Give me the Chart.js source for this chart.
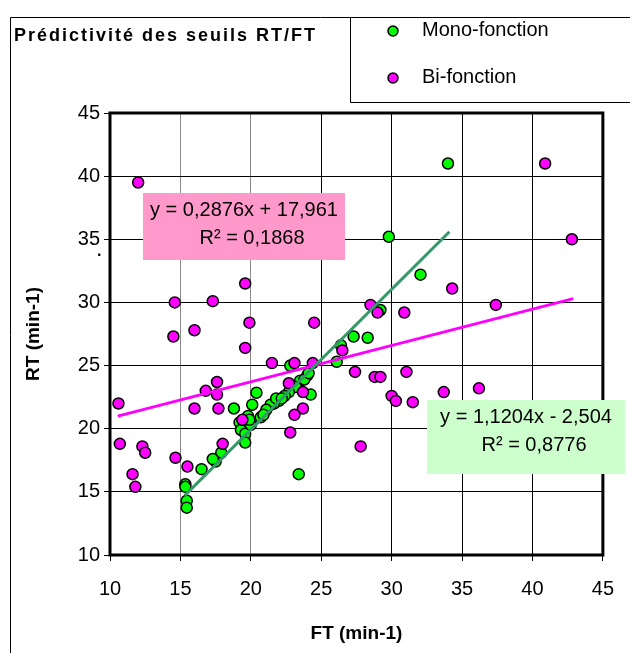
<!DOCTYPE html>
<html>
<head>
<meta charset="utf-8">
<script src="https://cdn.jsdelivr.net/npm/chart.js@4/dist/chart.umd.min.js"></script>
<style>
  html, body { margin: 0; padding: 0; background: #fff; }
  #wrap { width: 630px; height: 653px; position: relative; }
</style>
</head>
<body>
<div id="wrap"><canvas id="seuilsChart" width="630" height="653"></canvas></div>
<script>
// === data ===
const monoX = [34.0, 29.8, 32.05, 29.2, 27.3, 28.3, 26.4, 26.1, 24.25, 23.4, 22.8, 24.0, 23.5, 23.2, 22.7,
    22.4, 22.0, 21.65, 21.4, 21.1, 20.7, 20.4, 20.1, 18.8, 19.8, 19.2, 19.5, 19.3, 19.6, 19.6,
    17.9, 17.5, 17.3, 16.5, 15.35, 15.35, 15.45, 15.45, 23.8, 24.1, 20.9, 21.8, 22.2, 20.0, 19.9];
const monoY = [41.0, 35.2, 32.2, 29.4, 27.3, 27.2, 26.6, 25.3, 22.7, 16.4, 25.0, 24.2, 23.8, 23.3, 22.9,
    22.6, 22.2, 22.0, 21.9, 21.5, 20.9, 22.85, 21.9, 21.6, 21.0, 20.5, 20.2, 19.9, 19.6, 18.9,
    18.1, 17.4, 17.6, 16.8, 15.6, 15.4, 14.3, 13.75, 23.9, 24.4, 21.1, 22.4, 22.4, 20.3, 20.7];

const biX = [12.0, 10.6, 10.7, 12.3, 12.5, 11.6, 11.8, 14.65, 15.5, 16.0, 16.8, 17.6, 17.6, 17.7, 18.0,
    19.4, 19.6, 21.5, 14.6, 14.5, 16.0, 17.3, 19.6, 19.9, 28.5, 29.0, 30.9, 24.5, 23.1, 24.4,
    26.5, 22.7, 23.7, 23.7, 23.1, 22.8, 27.4, 28.8, 29.2, 31.05, 30.0, 30.3, 31.5, 27.8, 34.3,
    40.9, 42.8, 37.4, 33.7, 36.2];
const biY = [39.5, 22.0, 18.8, 18.6, 18.1, 16.4, 15.4, 17.7, 17.0, 21.6, 23.0, 23.7, 22.7, 21.6, 18.8,
    20.7, 26.4, 25.2, 30.0, 27.3, 27.8, 30.1, 31.5, 28.4, 29.8, 29.2, 29.2, 28.4, 25.2, 25.2,
    26.2, 23.6, 22.9, 21.6, 21.1, 19.7, 24.5, 24.1, 24.1, 24.5, 22.6, 22.2, 22.1, 18.6, 31.1,
    41.0, 35.0, 29.8, 22.9, 23.2];

// trend line end points
const monoTrendX = [15.3, 34.1];
const monoTrendY = [14.7, 35.6];
const biTrendX = [10.55, 42.9];
const biTrendY = [21.0, 30.3];

const seriesNames = ["Mono-fonction", "Bi-fonction"];
const monoEquation = ["y = 1,1204x - 2,504", "R² = 0,8776"];
const biEquation = ["y = 0,2876x + 17,961", "R² = 0,1868"];

const toPoints = (xs, ys) => xs.map((x, i) => ({ x: x, y: ys[i] }));

const FONT = "'Liberation Sans', Arial, sans-serif";
const GREEN = "#00ff00";
const MAGENTA = "#ff00ff";

// frame, legend, equation boxes
const decorPlugin = {
    id: "decor",
    beforeDatasetsDraw(chart) {
        const { ctx, chartArea: a } = chart;
        ctx.save();
        ctx.strokeStyle = "#000";
        ctx.lineWidth = 3;
        ctx.strokeRect(a.left, a.top, a.right - a.left, a.bottom - a.top);
        ctx.restore();
    },
    afterDatasetsDraw(chart) {
        const ctx = chart.ctx;
        ctx.save();

        // outer chart frame
        ctx.strokeStyle = "#000";
        ctx.lineWidth = 1;
        ctx.beginPath();
        ctx.moveTo(10.5, 653);
        ctx.lineTo(10.5, 17.5);
        ctx.lineTo(630, 17.5);
        ctx.stroke();

        // legend box
        ctx.beginPath();
        ctx.moveTo(350.5, 17.5);
        ctx.lineTo(350.5, 102.5);
        ctx.lineTo(630, 102.5);
        ctx.stroke();

        // title
        ctx.fillStyle = "#000";
        ctx.font = "bold 18px " + FONT;
        ctx.textBaseline = "middle";
        ctx.textAlign = "left";
        ctx.letterSpacing = "2px";
        ctx.fillText("Prédictivité des seuils RT/FT", 14, 36);
        ctx.letterSpacing = "0px";

        // legend entries
        const legendRows = [{ y: 30, color: GREEN }, { y: 77, color: MAGENTA }];
        ctx.font = "20px " + FONT;
        legendRows.forEach((row, i) => {
            ctx.beginPath();
            ctx.arc(393, row.y + 1, 5, 0, Math.PI * 2);
            ctx.fillStyle = row.color;
            ctx.fill();
            ctx.lineWidth = 1.5;
            ctx.strokeStyle = "#000";
            ctx.stroke();
            ctx.fillStyle = "#000";
            ctx.fillText(seriesNames[i], 422, row.y);
        });

        // equation boxes
        const boxes = [
            { x: 143, y: 193, w: 202, h: 67, fill: "#ff99cc", lines: biEquation, cx: 244 },
            { x: 427, y: 400, w: 198, h: 74, fill: "#ccffcc", lines: monoEquation, cx: 526 }
        ];
        boxes.forEach(b => {
            ctx.fillStyle = b.fill;
            ctx.fillRect(b.x, b.y, b.w, b.h);
            ctx.fillStyle = "#000";
            ctx.font = "20px " + FONT;
            ctx.textAlign = "center";
            ctx.fillText(b.lines[0], b.cx, b.y + 17);
            ctx.fillText(b.lines[1], b.cx + 8, b.y + 45);
        });

        // stray dot next to the y title
        ctx.textAlign = "left";
        ctx.font = "bold 16px " + FONT;
        ctx.fillText(".", 97, 252);

        ctx.restore();
    }
};

const gridColor = ctx => (ctx.tick && (ctx.tick.value === 15 || ctx.tick.value === 20)) ? "#8a8a8a" : "#000";

new Chart(document.getElementById("seuilsChart"), {
    type: "scatter",
    data: {
        datasets: [
            {
                label: "trend Mono",
                type: "line",
                data: toPoints(monoTrendX, monoTrendY),
                borderColor: "#339966",
                borderWidth: 3,
                pointRadius: 0,
                order: 0
            },
            {
                label: "trend Bi",
                type: "line",
                data: toPoints(biTrendX, biTrendY),
                borderColor: MAGENTA,
                borderWidth: 3,
                pointRadius: 0,
                order: 0
            },
            {
                label: seriesNames[1],
                data: toPoints(biX, biY),
                backgroundColor: MAGENTA,
                borderColor: "#000",
                borderWidth: 1.5,
                pointRadius: 5.5,
                order: 1
            },
            {
                label: seriesNames[0],
                data: toPoints(monoX, monoY),
                backgroundColor: GREEN,
                borderColor: "#000",
                borderWidth: 1.5,
                pointRadius: 5.5,
                order: 2
            }
        ]
    },
    options: {
        responsive: false,
        animation: false,
        layout: { padding: { top: 113, right: 25, left: 18, bottom: 4 } },
        plugins: {
            legend: { display: false },
            tooltip: { enabled: false }
        },
        scales: {
            x: {
                type: "linear",
                min: 10,
                max: 45,
                ticks: { stepSize: 5, color: "#000", font: { family: FONT, size: 20 }, padding: 16 },
                grid: { color: gridColor, lineWidth: 1, tickLength: 6, tickColor: "#000" },
                border: { display: false },
                title: {
                    display: true,
                    text: "FT (min-1)",
                    color: "#000",
                    font: { family: FONT, size: 19, weight: "bold" },
                    padding: { top: 0, bottom: 4 }
                },
                afterFit: s => { s.height = 94; }
            },
            y: {
                type: "linear",
                min: 10,
                max: 45,
                ticks: { stepSize: 5, color: "#000", font: { family: FONT, size: 20 }, padding: 4 },
                grid: { color: "#000", lineWidth: 1, tickLength: 6, tickColor: "#000" },
                border: { display: false },
                title: {
                    display: true,
                    text: "RT (min-1)",
                    color: "#000",
                    font: { family: FONT, size: 19, weight: "bold" },
                    padding: { top: 4, bottom: 0 }
                },
                afterFit: s => { s.width = 92; }
            }
        }
    },
    plugins: [decorPlugin]
});
</script>
</body>
</html>
